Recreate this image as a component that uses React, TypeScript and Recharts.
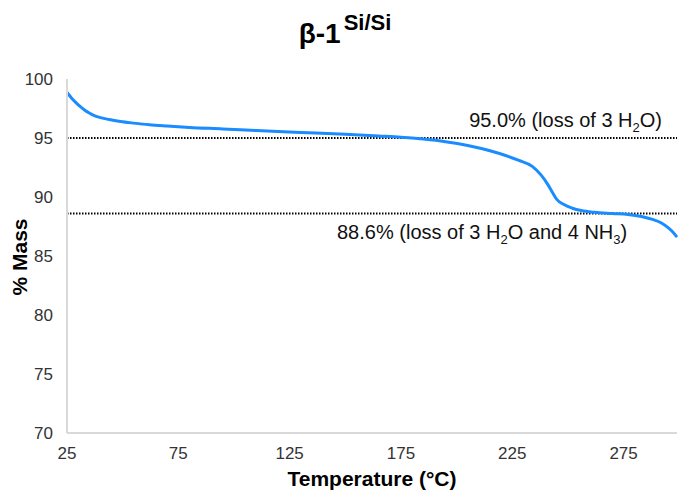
import { Label, Line, LineChart, ReferenceLine, XAxis, YAxis } from 'recharts';

// TGA trace: temperature (°C) vs remaining mass (%)
const temperature = [
  25, 27, 29, 31, 33, 35, 37, 40, 44, 49, 55, 62, 70, 80, 95, 110, 130, 150, 165, 175, 185, 195, 205,
  215, 222, 228, 234, 238, 241, 243, 245, 248, 252, 256, 262, 270, 277, 283, 288, 292, 295, 297, 299,
];
const mass = [
  98.85, 98.4, 98.0, 97.65, 97.36, 97.12, 96.92, 96.73, 96.56, 96.4, 96.26, 96.12, 96.01, 95.89, 95.77, 95.63, 95.47, 95.31, 95.17, 95.07, 94.91, 94.69, 94.37,
  93.92, 93.52, 93.1, 92.6, 91.85, 91.05, 90.4, 89.8, 89.38, 89.05, 88.85, 88.7, 88.6, 88.52, 88.35, 88.1, 87.8, 87.4, 87.05, 86.6,
];

const xTicks = [25, 75, 125, 175, 225, 275];
const yTicks = [70, 75, 80, 85, 90, 95, 100];

const waterLoss = 95.0;
const waterAmmoniaLoss = 88.6;

const data = temperature.map((t, i) => ({ t, mass: mass[i] }));

const FONT = '"Liberation Sans", Arial, sans-serif';
const tickStyle = { fill: '#333', fontSize: 17, fontFamily: FONT };

export default function App() {
  return (
    <div style={{ position: 'absolute', left: 0, top: 0, width: 680, height: 493, background: '#fff' }}>
      <svg width={680} height={60} style={{ position: 'absolute', left: 0, top: 0 }}>
        <text x={345} y={43} textAnchor="middle" fontFamily={FONT} fontWeight="bold" fontSize={28} fill="#000">
          β-1
          <tspan fontSize={22} dy={-13} dx={3}>
            Si/Si
          </tspan>
        </text>
      </svg>
      <LineChart
        width={680}
        height={493}
        data={data}
        margin={{ top: 79, right: 3, bottom: 0, left: 0 }}
        style={{ position: 'absolute', left: 0, top: 0 }}
      >
        <XAxis
          dataKey="t"
          type="number"
          domain={[25, 299]}
          ticks={xTicks}
          interval={0}
          height={60}
          tickLine={false}
          tickMargin={8}
          stroke="#d9d9d9"
          strokeWidth={2}
          tick={tickStyle}
        >
          <Label
            value="Temperature (°C)"
            position="insideBottom"
            offset={7}
            fill="#000"
            fontSize={21}
            fontWeight="bold"
            fontFamily={FONT}
          />
        </XAxis>
        <YAxis
          type="number"
          domain={[70, 100]}
          ticks={yTicks}
          interval={0}
          width={67}
          tickLine={false}
          tickMargin={8}
          stroke="#d9d9d9"
          strokeWidth={2}
          tick={tickStyle}
          label={{
            content: () => (
              <text
                x={19}
                y={257}
                transform="rotate(-90 19 257)"
                textAnchor="middle"
                dominantBaseline="central"
                fontFamily={FONT}
                fontWeight="bold"
                fontSize={21}
                fill="#000"
              >
                % Mass
              </text>
            ),
          }}
        />
        <ReferenceLine
          y={waterLoss}
          stroke="#000"
          strokeWidth={2}
          strokeDasharray="1.5 1.5"
          label={{
            content: (props: any) => {
              const vb = props.viewBox || {};
              return (
                <text
                  x={vb.x + vb.width - 15}
                  y={vb.y - 11}
                  textAnchor="end"
                  fontFamily={FONT}
                  fontSize={20}
                  fill="#111"
                >
                  {waterLoss.toFixed(1)}% (loss of 3 H
                  <tspan fontSize={13} dy={5}>
                    2
                  </tspan>
                  <tspan dy={-5}>O)</tspan>
                </text>
              );
            },
          }}
        />
        <ReferenceLine
          y={waterAmmoniaLoss}
          stroke="#000"
          strokeWidth={2}
          strokeDasharray="1.5 1.5"
          label={{
            content: (props: any) => {
              const vb = props.viewBox || {};
              return (
                <text x={vb.x + 270} y={vb.y + 25} textAnchor="start" fontFamily={FONT} fontSize={20} fill="#111">
                  {waterAmmoniaLoss.toFixed(1)}% (loss of 3 H
                  <tspan fontSize={13} dy={5}>
                    2
                  </tspan>
                  <tspan dy={-5}>O and 4 NH</tspan>
                  <tspan fontSize={13} dy={5}>
                    3
                  </tspan>
                  <tspan dy={-5}>)</tspan>
                </text>
              );
            },
          }}
        />
        <Line
          dataKey="mass"
          type="monotone"
          dot={false}
          stroke="#1a8cff"
          strokeWidth={3}
          isAnimationActive={false}
        />
      </LineChart>
    </div>
  );
}
